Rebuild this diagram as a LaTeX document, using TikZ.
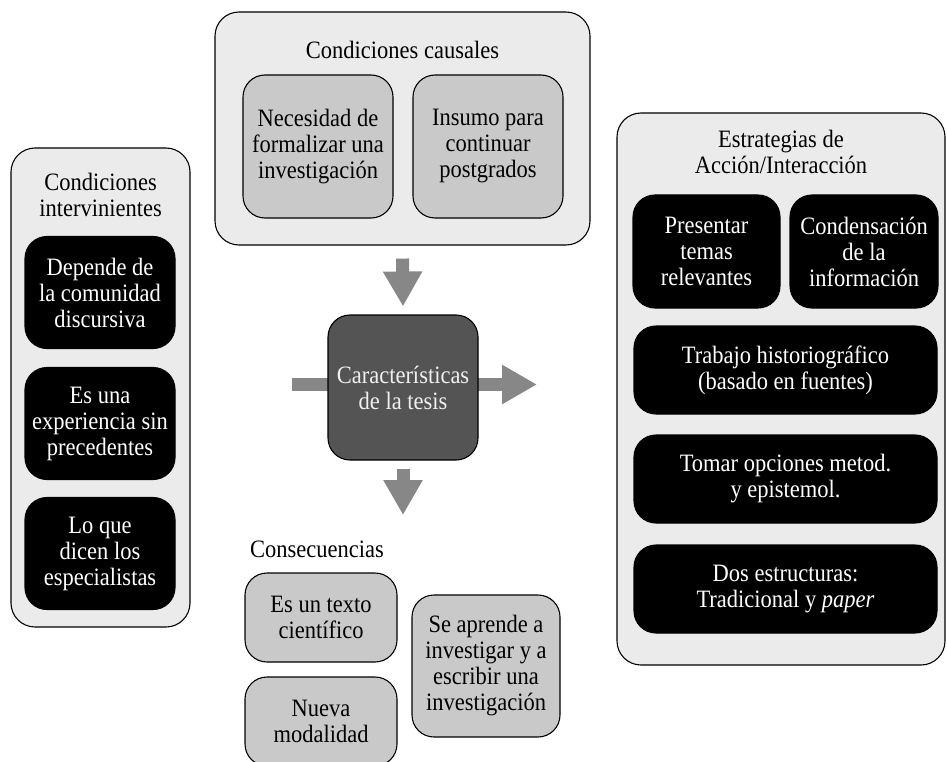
\documentclass[tikz,border=0pt]{standalone}
\usepackage{fontspec}
\setmainfont[FakeStretch=0.9]{Liberation Serif}
\usetikzlibrary{arrows.meta}
\begin{document}
\begin{tikzpicture}[x=1pt, y=-1pt, line join=round, font=\fontsize{25}{26}\selectfont,
	marco/.style={draw, line width=1.1pt, fill=black!8, rounded corners=24pt, inner sep=0pt},
	gris/.style={draw, line width=1.1pt, fill=black!21, rounded corners=22pt, align=center, inner sep=0pt},
	negro/.style={draw, line width=1.1pt, fill=black, text=white, rounded corners=22pt, align=center, inner sep=0pt},
	flecha/.style={draw=black!47, line width=13pt, -{Triangle[length=35pt,width=37pt]}}]
	\useasboundingbox (0,0) rectangle (947,762);
	% Condiciones causales
	\node[marco, minimum width=375pt, minimum height=233pt] (causal) at (402.5,128.5) {};
	\node (tcausal) at (402.5,50) {Condiciones causales};
	\node[gris, minimum width=150pt, minimum height=143pt] (nec) at (318,146.5) {Necesidad de\\formalizar una\\investigación};
	\node[gris, minimum width=150pt, minimum height=143pt] (ins) at (488,146.5) {Insumo para\\continuar\\postgrados};
	% Condiciones intervinientes
	\node[marco, minimum width=179pt, minimum height=479pt] (interv) at (100.5,387.5) {};
	\node[align=center] (tinterv) at (100.5,195) {Condiciones\\intervinientes};
	\foreach \i/\y/\t in {1/292.5/{Depende de\\la comunidad\\discursiva},
		2/423.5/{Es una\\experiencia sin\\precedentes},
		3/553.5/{Lo que\\dicen los\\especialistas}}
	\node[negro, minimum width=150pt, minimum height=112pt] (I\i) at (100,\y) {\t};
	% Estrategias de accion
	\node[marco, minimum width=328pt, minimum height=552pt] (estr) at (781,389) {};
	\node[align=center] (testr) at (781,152) {Estrategias de\\Acción/Interacción};
	\node[negro, minimum width=147pt, minimum height=113pt] (E1) at (706.5,251.5) {Presentar\\temas\\relevantes};
	\node[negro, minimum width=148pt, minimum height=113pt] (E2) at (864,251.5) {Condensación\\de la\\información};
	\foreach \i/\y/\t in {3/370/{Trabajo historiográfico\\(basado en fuentes)},
		4/479/{Tomar opciones metod.\\y epistemol.},
		5/589/{Dos estructuras:\\Tradicional y \textit{paper}}}
	\node[negro, minimum width=303pt, minimum height=88pt] (E\i) at (785.5,\y) {\t};
	% Flechas y caracteristicas
	\coordinate (entra) at (292,384.5);
	\coordinate (sale) at (537,384.5);
	\coordinate (baja) at (403,515);
	\draw[flecha] (entra) -- (sale);
	\node[draw, line width=1.1pt, fill=black!67, text=black!6, rounded corners=22pt, align=center,
		inner sep=0pt, minimum width=150pt, minimum height=145pt] (centro) at (403,387.5) {Características\\de la tesis};
	\draw[flecha] ([yshift=-13pt]causal.south) -- ([yshift=8pt]centro.north);
	\draw[flecha] ([yshift=-8pt]centro.south) -- (baja);
	% Consecuencias
	\node[anchor=west, inner sep=0pt] (tcons) at (250,549) {Consecuencias};
	\node[gris, minimum width=152pt, minimum height=89pt] (C1) at (321,617.5) {Es un texto\\científico};
	\node[gris, minimum width=152pt, minimum height=89pt] (C2) at (321,721.5) {Nueva\\modalidad};
	\node[gris, minimum width=148pt, minimum height=142pt] (C3) at (486,666) {Se aprende a\\investigar y a\\escribir una\\investigación};
\end{tikzpicture}
\end{document}
